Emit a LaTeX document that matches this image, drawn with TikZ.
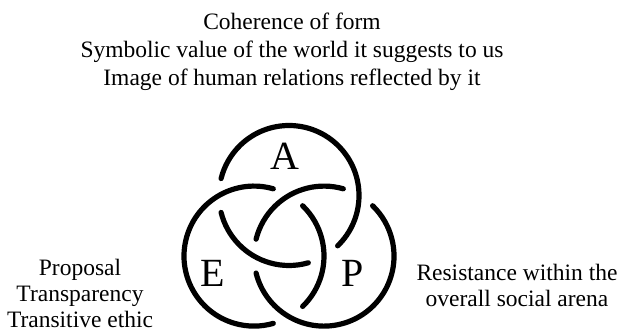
\documentclass[tikz,border=0pt]{standalone}
\usepackage{fontspec}
\setmainfont{Liberation Serif}
\usetikzlibrary{positioning,calc}
\tikzset{
  invisible/.style={inner sep=0pt},
  caption/.style={align=center, inner sep=0pt, font=\fontsize{11.75}{13}\selectfont},
  caption_top/.style={caption, font=\fontsize{11.75}{14}\selectfont},
  pole/.style={inner sep=0pt, font=\fontsize{20}{24}\selectfont}}

\begin{document}
\begin{tikzpicture}[x=0.5pt, y=0.5pt]

\tikzset{
ring/.style={line width=2.6pt, line cap=round}
}

\useasboundingbox (0,0) rectangle (621,332);

\coordinate (cA) at (289,136.5);
\coordinate (cE) at (254,75.9);
\coordinate (cP) at (324,75.9);

%RING A
\draw[ring] (cA) ++(314:35pt) arc[start angle=314, end angle=526, radius=35pt];
\draw[ring] (cA) ++(194:35pt) arc[start angle=194, end angle=286, radius=35pt];

%RING E
\draw[ring] (cE) ++(74:35pt) arc[start angle=74, end angle=286, radius=35pt];
\draw[ring] (cE) ++(-46:35pt) arc[start angle=-46, end angle=46, radius=35pt];

%RING P
\draw[ring] (cP) ++(74:35pt) arc[start angle=74, end angle=166, radius=35pt];
\draw[ring] (cP) ++(194:35pt) arc[start angle=194, end angle=406, radius=35pt];

%POLES
\node[pole](A) at (285,176) {A};
\node[pole](E) at (212.5,59) {E};
\node[pole](P) at (352.5,59) {P};

%CAPTIONS
\node[caption_top](aesthetic) at (292,280.5) {
    Coherence of form\\
    Symbolic value of the world it suggests to us\\
    Image of human relations reflected by it
};

\node[caption](ethic) at (80,39) {
    Proposal\\Transparency\\Transitive ethic
};

\node[caption](politic) at (517,47) {
    Resistance within the\\overall social arena
};
\end{tikzpicture}
\end{document}
